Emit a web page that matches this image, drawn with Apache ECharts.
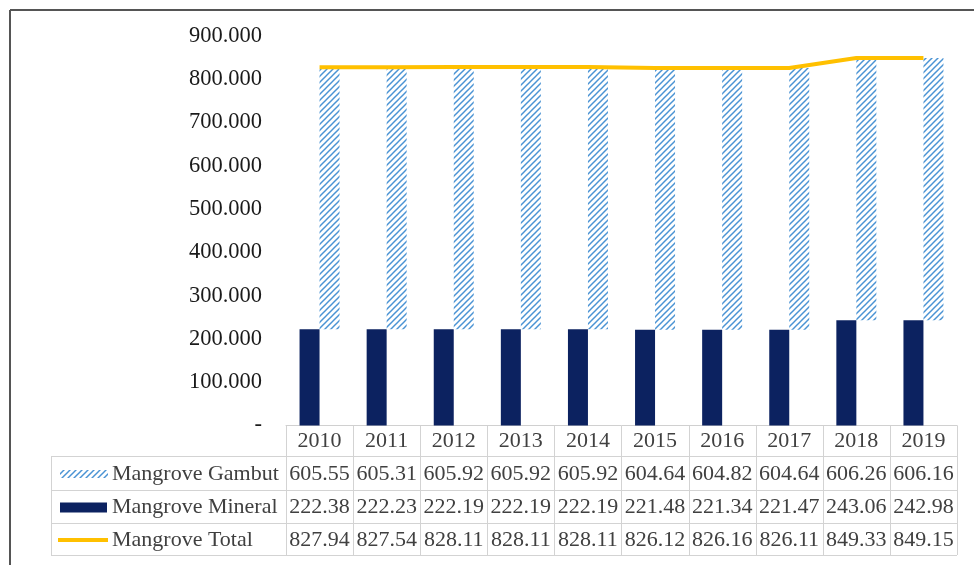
<!DOCTYPE html>
<html>
<head>
<meta charset="utf-8">
<script src="https://cdn.jsdelivr.net/npm/echarts@6/dist/echarts.min.js"></script>
<style>
html,body{margin:0;padding:0;background:#fff;}
#c{width:974px;height:565px;}
</style>
</head>
<body>
<div id="c"></div>
<script>
const years = ['2010','2011','2012','2013','2014','2015','2016','2017','2018','2019'];
const gambut = [605.55,605.31,605.92,605.92,605.92,604.64,604.82,604.64,606.26,606.16];
const mineral = [222.38,222.23,222.19,222.19,222.19,221.48,221.34,221.47,243.06,242.98];
const total = [827.94,827.54,828.11,828.11,828.11,826.12,826.16,826.11,849.33,849.15];
const seriesNames = ['Mangrove Gambut','Mangrove Mineral','Mangrove Total'];

const FONT = '"Liberation Serif", "Times New Roman", serif';
const NAVY = '#0c2260';
const GOLD = '#ffc000';

function hatch() {
  const s = 6;
  const cv = document.createElement('canvas');
  cv.width = s; cv.height = s;
  const ctx = cv.getContext('2d');
  ctx.fillStyle = '#ffffff';
  ctx.fillRect(0,0,s,s);
  ctx.strokeStyle = '#4a93d4';
  ctx.lineWidth = 1.5;
  for (const o of [-s, 0, s]) {
    ctx.beginPath();
    ctx.moveTo(o - 1, s + 1);
    ctx.lineTo(o + s + 1, -1);
    ctx.stroke();
  }
  return cv;
}
const pattern = { image: hatch(), repeat: 'repeat' };

const chart = echarts.init(document.getElementById('c'));
chart.setOption({
  animation: false,
  grid: { left: 286, right: 17, top: 36, bottom: 139.5 },
  xAxis: {
    type: 'category',
    data: years,
    axisLine: { lineStyle: { color: '#d0d0d0', width: 1 } },
    axisTick: { show: false },
    axisLabel: { fontFamily: FONT, fontSize: 22, color: '#404040', margin: 5 }
  },
  yAxis: {
    type: 'value',
    min: 0, max: 900, interval: 100,
    splitLine: { show: false },
    axisLine: { show: false },
    axisTick: { show: false },
    axisLabel: {
      fontFamily: FONT, fontSize: 22.5, color: '#1a1a1a', margin: 24,
      formatter: v => v === 0 ? '-' : v.toFixed(3)
    }
  },
  series: [
    { name: seriesNames[1], type: 'bar', data: mineral, barWidth: 20, barGap: '0%',
      itemStyle: { color: NAVY } },
    { name: 'base', type: 'bar', stack: 'g', data: mineral, barWidth: 20,
      itemStyle: { color: 'rgba(0,0,0,0)' }, silent: true },
    { name: seriesNames[0], type: 'bar', stack: 'g', data: gambut, barWidth: 20,
      itemStyle: { color: pattern } },
    { name: seriesNames[2], type: 'line', data: total, symbol: 'none',
      lineStyle: { color: GOLD, width: 4 }, z: 5 }
  ]
});

// Build data table from axis positions
const x0 = chart.convertToPixel({xAxisIndex:0}, years[0]);
const x1 = chart.convertToPixel({xAxisIndex:0}, years[1]);
const cw = x1 - x0;
const left = x0 - cw/2;
const right = left + cw * years.length;
const yTop = chart.convertToPixel({yAxisIndex:0}, 0);
const rows = [456, 490, 523, 555];
const tableLeft = 51;
const lineColor = '#d3d3d3';
const g = [];
function line(x1_, y1_, x2_, y2_, color, w) {
  g.push({ type: 'line', shape: { x1: x1_, y1: y1_, x2: x2_, y2: y2_ },
    style: { stroke: color || lineColor, lineWidth: w || 1 }, silent: true });
}
for (let k = 0; k <= years.length; k++) {
  const x = Math.round(left + k * cw) + 0.5;
  line(x, yTop, x, rows[3]);
}
rows.forEach(y => line(tableLeft, y + 0.5, right, y + 0.5));
line(tableLeft + 0.5, rows[0], tableLeft + 0.5, rows[3]);

const rowData = [gambut, mineral, total];
rowData.forEach((arr, r) => {
  const cy = (rows[r] + rows[r+1]) / 2 + 1;
  arr.forEach((v, i) => {
    g.push({ type: 'text', x: chart.convertToPixel({xAxisIndex:0}, years[i]), y: cy,
      style: { text: v.toFixed(2), fontFamily: FONT, fontSize: 22, fill: '#404040',
        align: 'center', verticalAlign: 'middle' }, silent: true });
  });
  g.push({ type: 'text', x: 112, y: cy,
    style: { text: seriesNames[r], fontFamily: FONT, fontSize: 22, fill: '#404040',
      align: 'left', verticalAlign: 'middle' }, silent: true });
});
// legend keys
const c0 = (rows[0] + rows[1]) / 2 + 1;
g.push({ type: 'rect', shape: { x: 60, y: c0 - 4, width: 48, height: 8 },
  style: { fill: pattern }, silent: true });
const c1 = (rows[1] + rows[2]) / 2 + 1;
g.push({ type: 'rect', shape: { x: 60, y: c1 - 5, width: 47, height: 10 },
  style: { fill: NAVY }, silent: true });
const c2 = (rows[2] + rows[3]) / 2 + 1;
line(58, c2, 108, c2, GOLD, 4);
// outer frame (left and top)
line(10, 10, 974, 10, '#555', 2);
line(10, 10, 10, 565, '#555', 2);

chart.setOption({ graphic: g });
</script>
</body>
</html>
